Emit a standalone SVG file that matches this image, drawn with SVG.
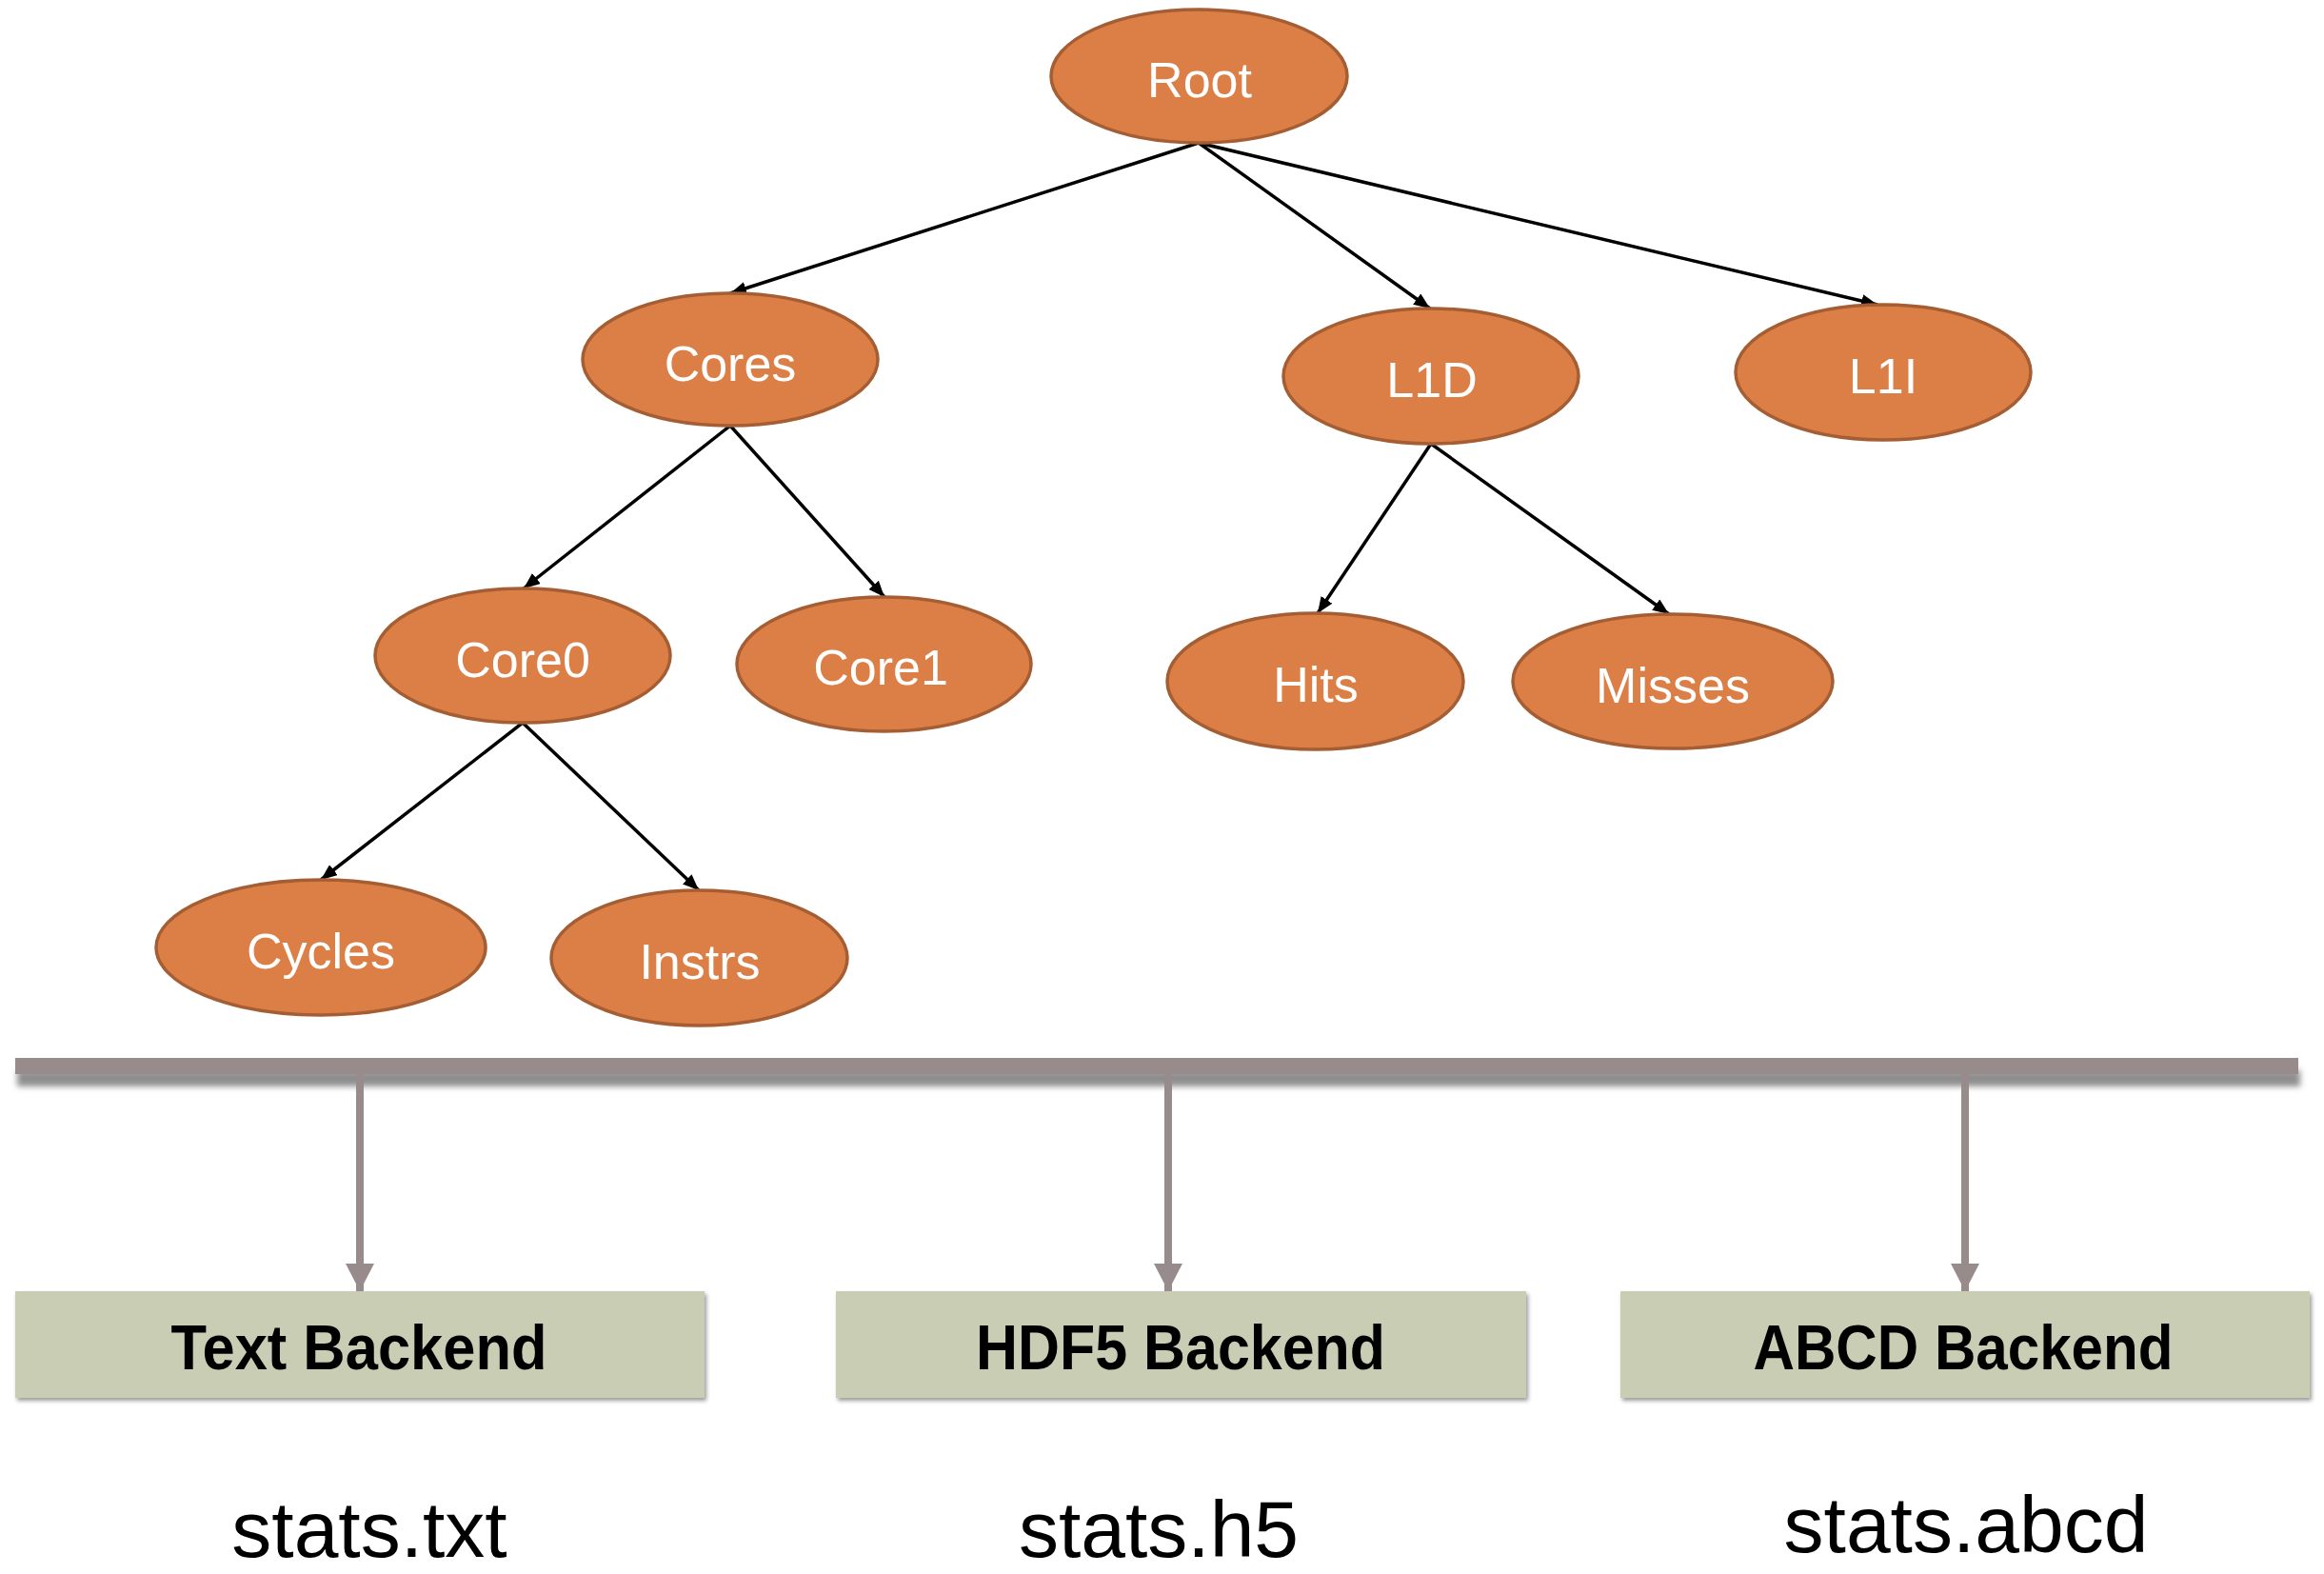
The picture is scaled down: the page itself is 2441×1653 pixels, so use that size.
<svg xmlns="http://www.w3.org/2000/svg" width="2441" height="1653" viewBox="0 0 2441 1653">
  <defs>
    <style>
      .node ellipse { fill: #DC7F47; stroke: #A55E33; stroke-width: 3.5; }
      .node text { fill: #FFFFFF; font-family: "Liberation Sans", Arial, sans-serif; font-size: 52px; text-anchor: middle; }
      .edge { stroke: #000000; stroke-width: 3.5; fill: none; marker-end: url(#arrow); }
      .feed { stroke: #978C8B; stroke-width: 8; fill: none; marker-end: url(#feedHead); }
      .backend rect { fill: #C9CDB3; }
      .backend text { fill: #000000; font-family: "Liberation Sans", Arial, sans-serif; font-size: 66px; font-weight: bold; text-anchor: middle; }
      .file { fill: #000000; font-family: "Liberation Sans", Arial, sans-serif; font-size: 84px; text-anchor: middle; }
    </style>
    <marker id="arrow" markerUnits="userSpaceOnUse" markerWidth="18" markerHeight="14" refX="17" refY="7" orient="auto">
      <path d="M0,0 L17,7 L0,14 z" fill="#000000"/>
    </marker>
    <marker id="feedHead" markerUnits="userSpaceOnUse" markerWidth="30" markerHeight="30" refX="29" refY="15" orient="auto">
      <path d="M0,0 L29,15 L0,30 z" fill="#978C8B"/>
    </marker>
    <filter id="barShadow" x="-2%" y="-100%" width="104%" height="400%">
      <feGaussianBlur in="SourceAlpha" stdDeviation="3"/>
      <feOffset dx="2" dy="13" result="off"/>
      <feFlood flood-color="#7A7A7A" flood-opacity="0.85"/>
      <feComposite in2="off" operator="in" result="shadow"/>
      <feMerge><feMergeNode in="shadow"/><feMergeNode in="SourceGraphic"/></feMerge>
    </filter>
    <filter id="boxShadow" x="-2%" y="-10%" width="104%" height="120%">
      <feGaussianBlur in="SourceAlpha" stdDeviation="2"/>
      <feOffset dx="2" dy="3" result="off"/>
      <feFlood flood-color="#808080" flood-opacity="0.8"/>
      <feComposite in2="off" operator="in" result="shadow"/>
      <feMerge><feMergeNode in="shadow"/><feMergeNode in="SourceGraphic"/></feMerge>
    </filter>
  </defs>

  <rect width="2441" height="1653" fill="#FFFFFF"/>

  <!-- tree edges -->
  <g id="connectors">
    <line class="edge" x1="1259" y1="150" x2="767" y2="308"/>
    <line class="edge" x1="1259" y1="150" x2="1502" y2="324"/>
    <line class="edge" x1="1259" y1="150" x2="1972" y2="320"/>
    <line class="edge" x1="767" y1="447" x2="550" y2="618"/>
    <line class="edge" x1="767" y1="447" x2="929" y2="627"/>
    <line class="edge" x1="549" y1="759" x2="337" y2="924"/>
    <line class="edge" x1="549" y1="759" x2="734" y2="935"/>
    <line class="edge" x1="1503" y1="466" x2="1384" y2="644"/>
    <line class="edge" x1="1503" y1="466" x2="1753" y2="645"/>
  </g>

  <!-- tree nodes -->
  <g id="node-root" class="node"><ellipse cx="1259.5" cy="80" rx="155.5" ry="70"/><text x="1260" y="102">Root</text></g>
  <g id="node-cores" class="node"><ellipse cx="767" cy="377.5" rx="155" ry="69.5"/><text x="767" y="400">Cores</text></g>
  <g id="node-l1d" class="node"><ellipse cx="1503" cy="395" rx="155" ry="71"/><text x="1504" y="417">L1D</text></g>
  <g id="node-l1i" class="node"><ellipse cx="1978" cy="391" rx="155" ry="71"/><text x="1978" y="413">L1I</text></g>
  <g id="node-core0" class="node"><ellipse cx="549" cy="688.5" rx="155" ry="70.5"/><text x="549" y="711">Core0</text></g>
  <g id="node-core1" class="node"><ellipse cx="928.5" cy="697.5" rx="154.5" ry="70.5"/><text x="925" y="719">Core1</text></g>
  <g id="node-hits" class="node"><ellipse cx="1381.5" cy="715.5" rx="155.5" ry="71.5"/><text x="1382" y="737">Hits</text></g>
  <g id="node-misses" class="node"><ellipse cx="1757" cy="715.5" rx="168" ry="70.5"/><text x="1757" y="738">Misses</text></g>
  <g id="node-cycles" class="node"><ellipse cx="337" cy="995" rx="173" ry="71"/><text x="337" y="1017">Cycles</text></g>
  <g id="node-instrs" class="node"><ellipse cx="734.5" cy="1006" rx="155.5" ry="71"/><text x="735" y="1028">Instrs</text></g>

  <!-- output bus -->
  <g id="bus">
    <rect x="16" y="1111" width="2398" height="17" fill="#978C8B" filter="url(#barShadow)"/>
  </g>

  <g id="bus-feeds">
    <line class="feed" x1="378" y1="1128" x2="378" y2="1356"/>
    <line class="feed" x1="1227" y1="1128" x2="1227" y2="1356"/>
    <line class="feed" x1="2064" y1="1128" x2="2064" y2="1356"/>
  </g>

  <!-- backends -->
  <g id="backend-text" class="backend">
    <rect x="16" y="1356" width="724" height="112" filter="url(#boxShadow)"/>
    <text x="377" y="1438" textLength="395" lengthAdjust="spacingAndGlyphs">Text Backend</text>
  </g>
  <g id="backend-hdf5" class="backend">
    <rect x="878" y="1356" width="725" height="112" filter="url(#boxShadow)"/>
    <text x="1240" y="1438" textLength="430" lengthAdjust="spacingAndGlyphs">HDF5 Backend</text>
  </g>
  <g id="backend-abcd" class="backend">
    <rect x="1702" y="1356" width="724" height="112" filter="url(#boxShadow)"/>
    <text x="2062" y="1438" textLength="441" lengthAdjust="spacingAndGlyphs">ABCD Backend</text>
  </g>

  <!-- output files -->
  <g id="files">
    <text class="file" x="388" y="1635">stats.txt</text>
    <text class="file" x="1217" y="1635">stats.h5</text>
    <text class="file" x="2065" y="1630">stats.abcd</text>
  </g>
</svg>
